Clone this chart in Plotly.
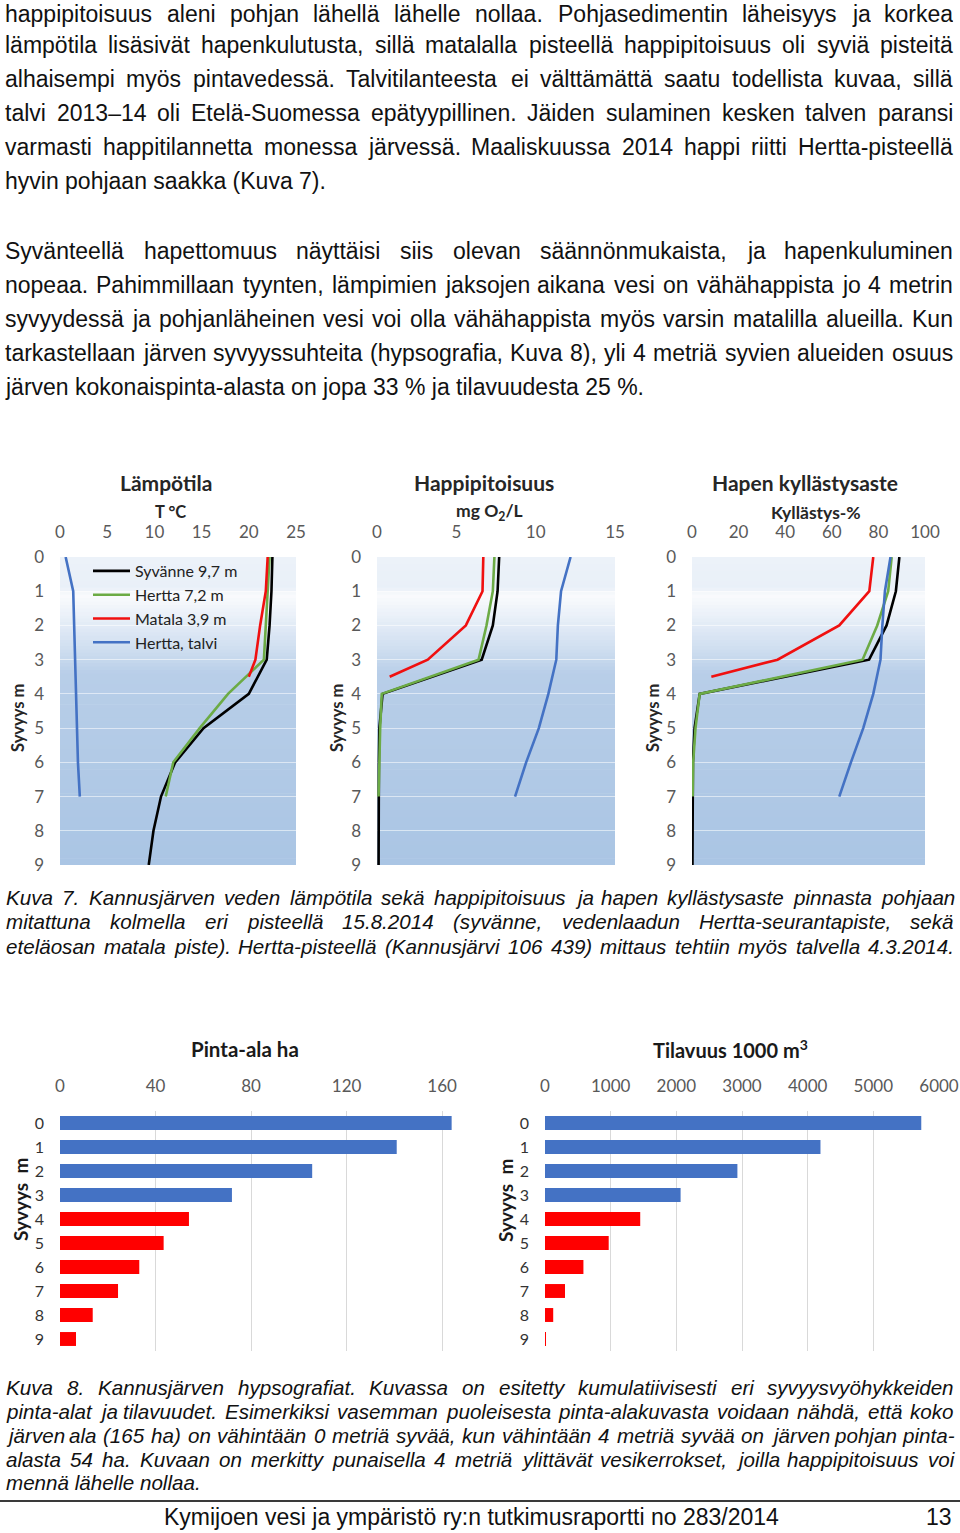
import plotly.graph_objects as go

W, H = 960, 1533
def px(x): return x / W
def py(y): return 1 - y / H

# ---------------- DATA ----------------
depth_syvanne = [0, 1, 2, 3, 4, 5, 6, 7, 8, 9]
depth_hertta = [0, 1, 2, 3, 4, 5, 6, 7]
depth_matala = [0, 1, 2, 3, 3.5]
depth_talvi = [0, 1, 2, 3, 4, 5, 6, 7]

temp_syvanne = [22.5, 22.4, 22.2, 21.9, 20.0, 15.2, 12.2, 10.7, 9.9, 9.4]
temp_hertta = [22.2, 22.0, 21.8, 21.6, 17.8, 14.8, 12.0, 11.2]
temp_matala = [22.0, 21.8, 21.2, 20.7, 20.0]
temp_talvi = [0.6, 1.4, 1.5, 1.6, 1.7, 1.8, 1.9, 2.1]

ox_syvanne = [7.7, 7.6, 7.3, 6.6, 0.35, 0.15, 0.12, 0.1, 0.1, 0.1]
ox_hertta = [7.4, 7.3, 6.9, 6.4, 0.3, 0.2, 0.15, 0.1]
ox_matala = [6.7, 6.65, 5.6, 3.2, 0.8]
ox_talvi = [12.2, 11.6, 11.4, 11.3, 10.8, 10.2, 9.4, 8.7]

sat_syvanne = [89.0, 87.5, 83.5, 76.0, 3.3, 1.1, 0.4, 0.3, 0.2, 0.2]
sat_hertta = [85.7, 84.2, 79.5, 73.2, 3.3, 1.5, 0.5, 0.3]
sat_matala = [77.8, 76.1, 63.2, 36.7, 8.3]
sat_talvi = [85.2, 82.8, 81.7, 80.9, 77.8, 73.5, 68.2, 63.2]

series_names = ["Syvänne 9,7 m", "Hertta 7,2 m", "Matala 3,9 m", "Hertta, talvi"]

bar_depth = [0, 1, 2, 3, 4, 5, 6, 7, 8, 9]
area_ha = [164, 141, 105.6, 72, 54, 43.4, 33.2, 24.3, 13.7, 6.7]
volume_1000m3 = [5730, 4195, 2930, 2065, 1450, 970, 585, 305, 125, 12]
anoxic_limit_m = 4

para1 = [
    "happipitoisuus aleni pohjan lähellä lähelle nollaa. Pohjasedimentin läheisyys ja korkea",
    "lämpötila lisäsivät hapenkulutusta, sillä matalalla pisteellä happipitoisuus oli syviä pisteitä",
    "alhaisempi myös pintavedessä. Talvitilanteesta ei välttämättä saatu todellista kuvaa, sillä",
    "talvi 2013–14 oli Etelä-Suomessa epätyypillinen. Jäiden sulaminen kesken talven paransi",
    "varmasti happitilannetta monessa järvessä. Maaliskuussa 2014 happi riitti Hertta-pisteellä",
    "hyvin pohjaan saakka (Kuva 7).",
]
para2 = [
    "Syvänteellä hapettomuus näyttäisi siis olevan säännönmukaista, ja hapenkuluminen",
    "nopeaa. Pahimmillaan tyynten, lämpimien jaksojen aikana vesi on vähähappista jo 4 metrin",
    "syvyydessä ja pohjanläheinen vesi voi olla vähähappista myös varsin matalilla alueilla. Kun",
    "tarkastellaan järven syvyyssuhteita (hypsografia, Kuva 8), yli 4 metriä syvien alueiden osuus",
    "järven kokonaispinta-alasta on jopa 33 % ja tilavuudesta 25 %.",
]
cap7 = [
    "Kuva 7. Kannusjärven veden lämpötila sekä happipitoisuus ja hapen kyllästysaste pinnasta pohjaan",
    "mitattuna kolmella eri pisteellä 15.8.2014 (syvänne, vedenlaadun Hertta-seurantapiste, sekä",
    "eteläosan matala piste). Hertta-pisteellä (Kannusjärvi 106 439) mittaus tehtiin myös talvella 4.3.2014.",
]
cap8 = [
    "Kuva 8. Kannusjärven hypsografiat. Kuvassa on esitetty kumulatiivisesti eri syvyysvyöhykkeiden",
    "pinta-alat ja tilavuudet. Esimerkiksi vasemman puoleisesta pinta-alakuvasta voidaan nähdä, että koko",
    "järven ala (165 ha) on vähintään 0 metriä syvää, kun vähintään 4 metriä syvää on järven pohjan pinta-",
    "alasta 54 ha. Kuvaan on merkitty punaisella 4 metriä ylittävät vesikerrokset, joilla happipitoisuus voi",
    "mennä lähelle nollaa.",
]
footer_text = "Kymijoen vesi ja ympäristö ry:n tutkimusraportti no 283/2014"
page_no = "13"

# ---------------- STYLE ----------------
TXT = "Liberation Sans, Arial, sans-serif"
CH = "Lato, Noto Sans, sans-serif"
C_BLACK, C_GREEN, C_RED, C_BLUE = "#000000", "#6cab45", "#f01010", "#4472c4"
BAR_BLUE, BAR_RED = "#4472c4", "#ff0000"
TICK = "#595959"

CW = {' ': 278, '%': 889, '(': 333, ')': 333, ',': 278, '-': 333, '.': 278, '/': 278, ':': 278,
      '–': 556, 'ä': 556, 'ö': 556, 'å': 556, 'Ä': 667, 'Ö': 778}
for d in "0123456789":
    CW[d] = 556
for c, w in zip("abcdefghijklmnopqrstuvwxyz",
                [556, 556, 500, 556, 556, 278, 556, 556, 222, 222, 500, 222, 833, 556, 556, 556, 556, 333, 500, 278, 556, 500, 722, 500, 500, 500]):
    CW[c] = w
for c, w in zip("ABCDEFGHIJKLMNOPQRSTUVWXYZ",
                [667, 667, 722, 722, 667, 611, 778, 722, 278, 500, 667, 556, 833, 722, 778, 667, 778, 722, 667, 611, 722, 667, 944, 667, 667, 611]):
    CW[c] = w

def tw(s, size):
    return sum(CW.get(c, 556) for c in s) * size / 1000.0

annotations = []

def add_text_line(text, y, size, italic=False, justify=False, x0=4, x1=952, top_edge=False):
    fnt = dict(family=TXT, size=size, color="#111111")
    wrap = (lambda s: "<i>" + s + "</i>") if italic else (lambda s: s)
    if top_edge:
        pos = dict(y=1, yanchor="top", height=26, valign="middle")
    else:
        pos = dict(y=py(y), yanchor="middle")
    words = text.split(" ")
    if justify and len(words) > 1:
        total = sum(tw(w, size) for w in words)
        gap = (x1 - x0 - total) / (len(words) - 1)
        x = x0
        for w in words:
            annotations.append(dict(text=wrap(w), x=px(x), xref="paper", yref="paper", xanchor="left",
                                    showarrow=False, font=fnt, borderpad=0, **pos))
            x += tw(w, size) + gap
    else:
        annotations.append(dict(text=wrap(text), x=px(x0), xref="paper", yref="paper", xanchor="left",
                                showarrow=False, font=fnt, borderpad=0, **pos))

BODY = 23.0
CAP = 20.6
for i, (t, y) in enumerate(zip(para1, [12, 45, 79, 113, 147, 181])):
    add_text_line(t, y, BODY, justify=(i < len(para1) - 1), top_edge=(i == 0))
for i, (t, y) in enumerate(zip(para2, [251, 285, 319, 353, 387])):
    add_text_line(t, y, BODY, justify=(i < len(para2) - 1))
for i, (t, y) in enumerate(zip(cap7, [897, 921, 946])):
    add_text_line(t, y, CAP, italic=True, justify=True, x0=5, x1=953)
for i, (t, y) in enumerate(zip(cap8, [1387, 1411, 1435, 1459, 1482])):
    add_text_line(t, y, CAP, italic=True, justify=(i < len(cap8) - 1), x0=5, x1=953)
add_text_line(footer_text, 1517, BODY, x0=163)
add_text_line(page_no, 1517, BODY, x0=925)

def ann(text, x, y, size, bold=True, color="#262626", angle=0, family=CH):
    annotations.append(dict(text=("<b>" + text + "</b>") if bold else text, x=px(x), y=py(y),
                            xref="paper", yref="paper", xanchor="center", yanchor="middle",
                            showarrow=False, textangle=angle, font=dict(family=family, size=size, color=color)))

ann("Lämpötila", 166, 483, 21)
ann("T °C", 170, 512, 16.5)
ann("Happipitoisuus", 484, 483, 21)
ann("mg O<sub>2</sub>/L", 490, 512, 17.5)
ann("Hapen kyllästysaste", 805, 483, 21)
ann("Kyllästys-%", 816, 512, 17.5)
for xx in [18, 337, 653]:
    ann("Syvyys m", xx, 718, 16.5, angle=-90)
ann("Pinta-ala ha", 245, 1049, 20.5, color="#1a1a1a")
ann("Tilavuus 1000 m<sup>3</sup>", 730, 1049, 20, color="#1a1a1a")
ann("Syvyys  m", 20, 1200, 19, angle=-90, color="#1a1a1a")
ann("Syvyys  m", 505, 1200, 19, angle=-90, color="#1a1a1a")

fig = go.Figure()

profiles = [
    (1, [temp_syvanne, temp_hertta, temp_matala, temp_talvi]),
    (2, [ox_syvanne, ox_hertta, ox_matala, ox_talvi]),
    (3, [sat_syvanne, sat_hertta, sat_matala, sat_talvi]),
]
depths = [depth_syvanne, depth_hertta, depth_matala, depth_talvi]
colors = [C_BLACK, C_GREEN, C_RED, C_BLUE]
for n, vals in profiles:
    for k in range(4):
        fig.add_trace(go.Scatter(
            x=vals[k], y=depths[k], mode="lines", name=series_names[k],
            line=dict(color=colors[k], width=2.6),
            xaxis="x" + ("" if n == 1 else str(n)), yaxis="y" + ("" if n == 1 else str(n)),
            showlegend=(n == 1), hoverinfo="skip"))

bar_cols = [BAR_BLUE if d < anoxic_limit_m else BAR_RED for d in bar_depth]
fig.add_trace(go.Bar(x=area_ha, y=bar_depth, orientation="h", marker=dict(color=bar_cols, line=dict(width=0)),
                     xaxis="x4", yaxis="y4", showlegend=False, hoverinfo="skip"))
fig.add_trace(go.Bar(x=volume_1000m3, y=bar_depth, orientation="h", marker=dict(color=bar_cols, line=dict(width=0)),
                     xaxis="x5", yaxis="y5", showlegend=False, hoverinfo="skip"))

stops = [(0.0, (236, 242, 249)), (0.9, (233, 240, 248)), (1.12, (250, 251, 253)), (2.0, (226, 235, 246)),
         (3.0, (198, 216, 237)), (3.4, (184, 206, 232)), (9.0, (170, 197, 228))]
def grad(d):
    for (d0, c0), (d1, c1) in zip(stops[:-1], stops[1:]):
        if d0 <= d <= d1:
            t = (d - d0) / (d1 - d0)
            return "rgb(%d,%d,%d)" % tuple(round(a + (b - a) * t) for a, b in zip(c0, c1))
    return "rgb(%d,%d,%d)" % stops[-1][1]

shapes = []
step = 0.1
for n in [1, 2, 3]:
    xr = "x" + ("" if n == 1 else str(n)) + " domain"
    yr = "y" + ("" if n == 1 else str(n))
    for i in range(90):
        d = i * step
        shapes.append(dict(type="rect", xref=xr, yref=yr, x0=0, x1=1, y0=d, y1=min(9, d + step + 0.02),
                           fillcolor=grad(d + step / 2), line=dict(width=0), layer="below"))
shapes.append(dict(type="line", xref="paper", yref="paper", x0=0, x1=1, y0=py(1501), y1=py(1501),
                   line=dict(color="#3a3a3a", width=2)))

yd_prof = [py(865), py(557)]
tickf = dict(family=CH, size=17, color=TICK)

def xprof(dom, rng, dtick):
    return dict(domain=[px(dom[0]), px(dom[1])], range=rng, dtick=dtick, side="top", showgrid=False,
                zeroline=False, showline=False, ticks="", tickfont=tickf, ticklabelstandoff=15,
                automargin=False, fixedrange=True)

def yprof(anchor):
    return dict(domain=yd_prof, range=[9, 0], dtick=1, showgrid=True, gridcolor="rgba(255,255,255,0.55)",
                gridwidth=1, zeroline=False, showline=False, ticks="", tickfont=tickf,
                ticklabelstandoff=15, anchor=anchor, automargin=False, fixedrange=True)

yd_bar = [py(1351), py(1111)]
def xbar(dom, rng, dtick):
    return dict(domain=[px(dom[0]), px(dom[1])], range=rng, dtick=dtick, side="top", showgrid=True,
                gridcolor="#d9d9d9", gridwidth=1, zeroline=False, showline=False, ticks="",
                tickfont=dict(family=CH, size=17, color=TICK), ticklabelstandoff=15,
                automargin=False, fixedrange=True)

def ybar(anchor):
    return dict(domain=yd_bar, range=[9.5, -0.5], tickvals=bar_depth, showgrid=False, zeroline=False,
                showline=False, ticks="", tickfont=dict(family=CH, size=16, color="#333333"),
                ticklabelstandoff=15, anchor=anchor, automargin=False, fixedrange=True)

fig.update_layout(
    width=W, height=H, autosize=False,
    margin=dict(l=0, r=0, t=0, b=0, pad=0, autoexpand=False),
    paper_bgcolor="white", plot_bgcolor="white",
    xaxis=dict(xprof((60, 296), [0, 25], 5), anchor="y"),
    yaxis=yprof("x"),
    xaxis2=dict(xprof((377, 615), [0, 15], 5), anchor="y2"),
    yaxis2=yprof("x2"),
    xaxis3=dict(xprof((692, 925), [0, 100], 20), anchor="y3"),
    yaxis3=yprof("x3"),
    xaxis4=dict(xbar((60, 460), [0, 167.5], 40), anchor="y4"),
    yaxis4=ybar("x4"),
    xaxis5=dict(xbar((545, 939), [0, 6000], 1000), anchor="y5"),
    yaxis5=ybar("x5"),
    bargap=0.42,
    legend=dict(x=px(88), y=py(554), xanchor="left", yanchor="top", bgcolor="rgba(0,0,0,0)",
                font=dict(family=CH, size=16, color="#222222"), tracegroupgap=0, itemwidth=37),
    annotations=annotations,
    shapes=shapes,
)

fig.write_html("out.html", config={"displayModeBar": False},
               post_script="document.body.style.margin='0px';document.body.style.overflow='hidden';")
